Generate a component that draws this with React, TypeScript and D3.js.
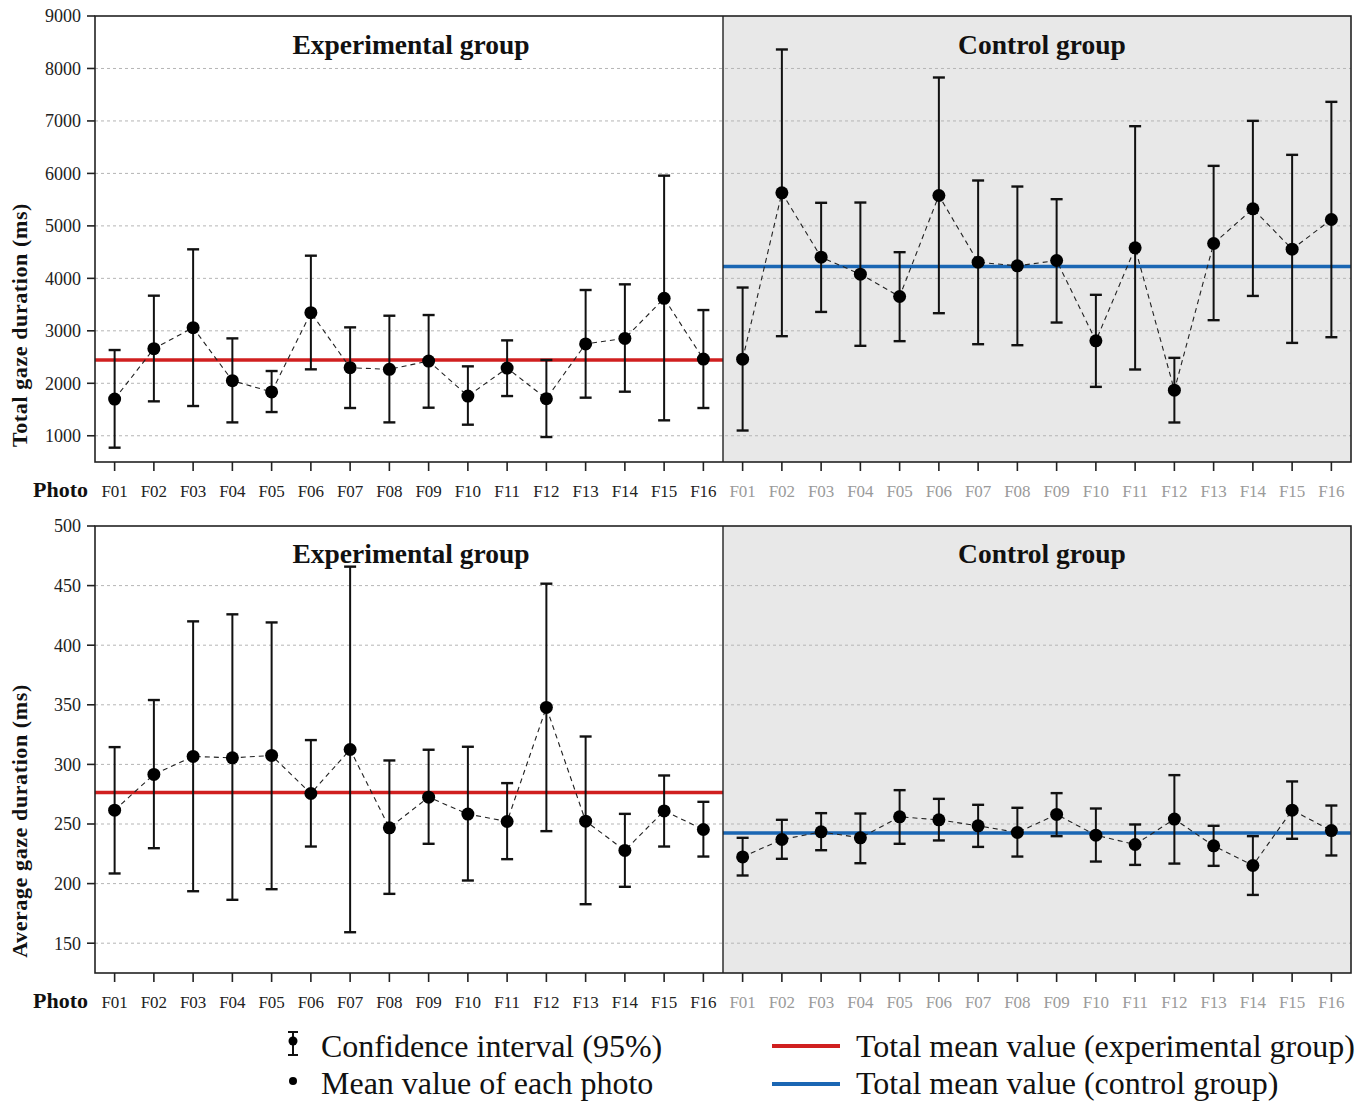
import React from "react";
import * as d3 from "d3";

const photos = ["F01","F02","F03","F04","F05","F06","F07","F08","F09","F10","F11","F12","F13","F14","F15","F16"];
const groupNames = ["Experimental group", "Control group"];

// Total gaze duration (ms)
const totalExpMean = [1700, 2660, 3060, 2050, 1835, 3346, 2297, 2266, 2424, 1757, 2290, 1707, 2750, 2856, 3619, 2462];
const totalExpLow  = [773, 1656, 1567, 1255, 1452, 2266, 1529, 1255, 1535, 1211, 1757, 976, 1726, 1840, 1294, 1529];
const totalExpHigh = [2634, 3670, 4553, 2856, 2234, 4432, 3066, 3288, 3301, 2323, 2818, 2444, 3778, 3886, 5957, 3396];
const totalCtrlMean = [2459, 5630, 4403, 4080, 3654, 5579, 4308, 4238, 4340, 2809, 4581, 1869, 4664, 5325, 4556, 5122];
const totalCtrlLow  = [1100, 2898, 3360, 2714, 2803, 3336, 2745, 2726, 3158, 1932, 2263, 1253, 3203, 3665, 2770, 2878];
const totalCtrlHigh = [3825, 8362, 5440, 5445, 4499, 7828, 5865, 5750, 5509, 3686, 6900, 2485, 6144, 7002, 6354, 7364];
const totalGroupMeans = [2445, 4228];
const totalTicks = [1000, 2000, 3000, 4000, 5000, 6000, 7000, 8000, 9000];

// Average gaze duration (ms)
const avgExpMean = [261.6, 291.6, 306.7, 305.5, 307.5, 275.6, 312.5, 246.8, 272.5, 258.3, 252.1, 347.8, 252.4, 227.8, 261.0, 245.4];
const avgExpLow  = [208.5, 229.7, 193.6, 186.4, 195.3, 231.1, 159.2, 191.4, 233.4, 202.6, 220.5, 244.0, 182.7, 197.3, 231.1, 222.7];
const avgExpHigh = [314.5, 354.0, 420.0, 425.9, 419.1, 320.4, 465.9, 303.3, 312.3, 314.8, 284.3, 451.6, 323.4, 258.5, 290.7, 268.6];
const avgCtrlMean = [222.4, 237.0, 243.4, 238.4, 256.0, 253.5, 248.5, 242.9, 258.0, 240.6, 232.8, 254.1, 231.7, 215.2, 261.6, 244.5];
const avgCtrlLow  = [206.8, 220.8, 228.0, 217.1, 233.4, 236.2, 230.8, 222.7, 239.8, 218.5, 215.7, 216.8, 214.9, 190.5, 237.6, 223.6];
const avgCtrlHigh = [238.4, 253.5, 259.1, 258.8, 278.4, 271.1, 266.1, 263.6, 275.9, 263.0, 249.6, 291.0, 248.5, 239.8, 285.7, 265.5];
const avgGroupMeans = [276.5, 242.5];
const avgTicks = [150, 200, 250, 300, 350, 400, 450, 500];

const legendLabels = [
  "Confidence interval (95%)",
  "Mean value of each photo",
  "Total mean value (experimental group)",
  "Total mean value (control group)",
];

const SERIF = "'Liberation Serif', 'Times New Roman', serif";
const RED = "#d01f1f";
const BLUE = "#1a66b3";
const LEFT = 95;
const RIGHT = 1351;

const keys = [...photos.map((p) => "E-" + p), ...photos.map((p) => "C-" + p)];
const x = d3.scalePoint<string>().domain(keys).range([LEFT, RIGHT]).padding(0.5);
const step = x.step();
const mid = LEFT + step * 16;

type PanelProps = {
  top: number;
  bottom: number;
  domain: [number, number];
  ticks: number[];
  means: number[][];
  lows: number[][];
  highs: number[][];
  groupMeans: number[];
  yLabel: string;
  yLabelCenter: number;
  titleBaseline: number;
  tickBaseline: number;
};

function Panel(p: PanelProps) {
  const y = d3.scaleLinear().domain(p.domain).range([p.bottom, p.top]);
  const line = d3
    .line<[number, number]>()
    .x((d) => d[0])
    .y((d) => d[1]);
  const prefixes = ["E-", "C-"];
  return (
    <g>
      <rect x={mid} y={p.top} width={RIGHT - mid} height={p.bottom - p.top} fill="#e8e8e8" />
      {p.ticks.filter((t) => t !== p.domain[1]).map((t) => (
        <line key={"g" + t} x1={LEFT} x2={RIGHT} y1={y(t)} y2={y(t)} stroke="#b5b5b5" strokeWidth={1} strokeDasharray="3,3" />
      ))}
      {p.groupMeans.map((m, gi) => (
        <line key={"m" + gi} x1={gi === 0 ? LEFT : mid} x2={gi === 0 ? mid : RIGHT} y1={y(m)} y2={y(m)} stroke={gi === 0 ? RED : BLUE} strokeWidth={3.5} />
      ))}
      {p.means.map((arr, gi) => (
        <path
          key={"l" + gi}
          d={line(arr.map((v, i) => [x(prefixes[gi] + photos[i]) as number, y(v)])) || ""}
          fill="none"
          stroke="#222"
          strokeWidth={1.1}
          strokeDasharray="5,4"
        />
      ))}
      {p.means.map((arr, gi) =>
        arr.map((v, i) => {
          const cx = x(prefixes[gi] + photos[i]) as number;
          const lo = y(p.lows[gi][i]);
          const hi = y(p.highs[gi][i]);
          return (
            <g key={"e" + gi + i}>
              <line x1={cx} x2={cx} y1={lo} y2={hi} stroke="#111" strokeWidth={2} />
              <line x1={cx - 6} x2={cx + 6} y1={lo} y2={lo} stroke="#111" strokeWidth={2.4} />
              <line x1={cx - 6} x2={cx + 6} y1={hi} y2={hi} stroke="#111" strokeWidth={2.4} />
              <circle cx={cx} cy={y(v)} r={6.5} fill="#000" />
            </g>
          );
        })
      )}
      <rect x={LEFT} y={p.top} width={RIGHT - LEFT} height={p.bottom - p.top} fill="none" stroke="#222" strokeWidth={1.6} />
      <line x1={mid} x2={mid} y1={p.top} y2={p.bottom} stroke="#222" strokeWidth={1.4} />
      {p.ticks.map((t) => (
        <g key={"t" + t}>
          <line x1={LEFT - 8} x2={LEFT} y1={y(t)} y2={y(t)} stroke="#222" strokeWidth={1.6} />
          <text x={LEFT - 14} y={y(t)} dy="0.35em" textAnchor="end" fontFamily={SERIF} fontSize={18} fill="#222">
            {t}
          </text>
        </g>
      ))}
      {keys.map((k, i) => (
        <g key={"x" + k}>
          <line x1={x(k)} x2={x(k)} y1={p.bottom} y2={p.bottom + 9} stroke="#222" strokeWidth={1.6} />
          <text x={x(k)} y={p.tickBaseline} textAnchor="middle" fontFamily={SERIF} fontSize={17} fill={i < 16 ? "#222" : "#9a9a9a"}>
            {photos[i % 16]}
          </text>
        </g>
      ))}
      <text x={33} y={p.tickBaseline} fontFamily={SERIF} fontSize={22} fontWeight="bold" fill="#111">
        Photo
      </text>
      <text x={(LEFT + mid) / 2 + 2} y={p.titleBaseline} textAnchor="middle" fontFamily={SERIF} fontSize={27.5} fontWeight="bold" fill="#111">
        {groupNames[0]}
      </text>
      <text x={(mid + RIGHT) / 2 + 5} y={p.titleBaseline} textAnchor="middle" fontFamily={SERIF} fontSize={27.5} fontWeight="bold" fill="#111">
        {groupNames[1]}
      </text>
      <text
        transform={`translate(27,${p.yLabelCenter}) rotate(-90)`}
        textAnchor="middle"
        fontFamily={SERIF}
        fontSize={22}
        fontWeight="bold"
        letterSpacing={0.6}
        fill="#111"
      >
        {p.yLabel}
      </text>
    </g>
  );
}

export default function App() {
  return (
    <svg width={1360} height={1101} style={{ position: "absolute", left: 0, top: 0, background: "#fff" }}>
      <rect x={0} y={0} width={1360} height={1101} fill="#fff" />
      <Panel
        top={16}
        bottom={462}
        domain={[500, 9000]}
        ticks={totalTicks}
        means={[totalExpMean, totalCtrlMean]}
        lows={[totalExpLow, totalCtrlLow]}
        highs={[totalExpHigh, totalCtrlHigh]}
        groupMeans={totalGroupMeans}
        yLabel="Total gaze duration (ms)"
        yLabelCenter={325}
        titleBaseline={54}
        tickBaseline={497}
      />
      <Panel
        top={526}
        bottom={973}
        domain={[125, 500]}
        ticks={avgTicks}
        means={[avgExpMean, avgCtrlMean]}
        lows={[avgExpLow, avgCtrlLow]}
        highs={[avgExpHigh, avgCtrlHigh]}
        groupMeans={avgGroupMeans}
        yLabel="Average gaze duration (ms)"
        yLabelCenter={821}
        titleBaseline={563}
        tickBaseline={1008}
      />
      {/* Legend */}
      <g>
        <line x1={293} x2={293} y1={1032} y2={1055} stroke="#111" strokeWidth={2} />
        <line x1={288} x2={298} y1={1032} y2={1032} stroke="#111" strokeWidth={2} />
        <line x1={288} x2={298} y1={1055} y2={1055} stroke="#111" strokeWidth={2} />
        <circle cx={293} cy={1041} r={4.5} fill="#000" />
        <text x={321} y={1057} fontFamily={SERIF} fontSize={32} fill="#111">{legendLabels[0]}</text>
        <circle cx={293} cy={1081} r={4} fill="#000" />
        <text x={321} y={1094} fontFamily={SERIF} fontSize={32} fill="#111">{legendLabels[1]}</text>
        <line x1={772} x2={840} y1={1046} y2={1046} stroke={RED} strokeWidth={4} />
        <text x={856} y={1057} fontFamily={SERIF} fontSize={32} fill="#111">{legendLabels[2]}</text>
        <line x1={772} x2={840} y1={1084} y2={1084} stroke={BLUE} strokeWidth={4} />
        <text x={856} y={1094} fontFamily={SERIF} fontSize={32} fill="#111">{legendLabels[3]}</text>
      </g>
    </svg>
  );
}
